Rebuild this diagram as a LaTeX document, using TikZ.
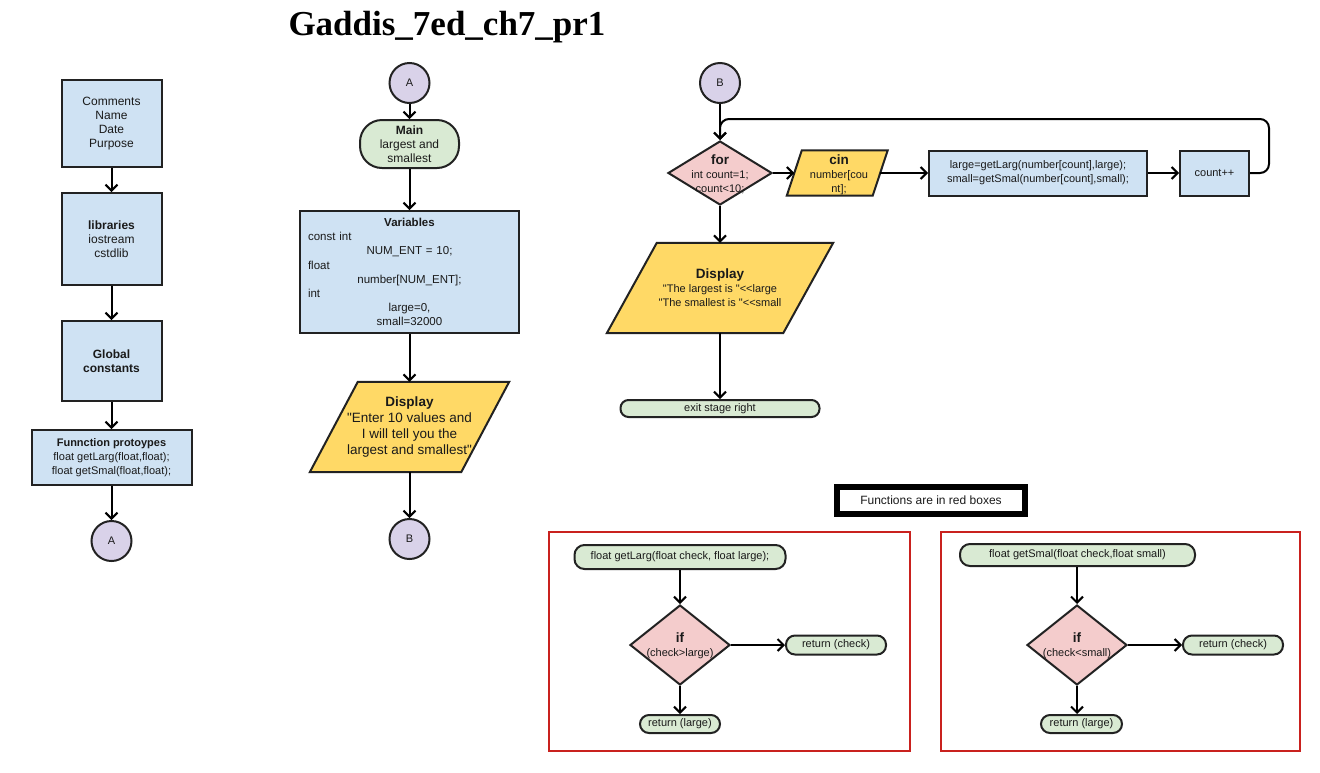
\documentclass[tikz,border=0pt]{standalone}
\usepackage{fontspec}
\usetikzlibrary{shapes.geometric,arrows.meta,backgrounds,calc}
\newfontfamily\ssf{Liberation Sans}
\newfontfamily\ttlfont{Liberation Serif}
\newcommand\fsz[2]{\fontsize{#1}{#2}\selectfont}
\definecolor{bord}{HTML}{222222}
\definecolor{boxblue}{HTML}{CFE2F3}
\definecolor{termgreen}{HTML}{D9EAD3}
\definecolor{parayellow}{HTML}{FFD966}
\definecolor{diapink}{HTML}{F4CCCC}
\definecolor{conpurple}{HTML}{D9D2E9}
\definecolor{fnred}{HTML}{C9211E}
\definecolor{txt}{HTML}{1A1A1A}
\tikzset{
  base/.style={draw=bord, line width=2pt, inner sep=0pt, align=center, text=txt},
  bluebox/.style={base, rectangle, fill=boxblue},
  term/.style={base, rectangle, fill=termgreen, rounded corners=#1},
  term/.default=9pt,
  conn/.style={base, circle, fill=conpurple, minimum size=40pt, font=\ssf\fsz{11}{13}},
  dia/.style={base, diamond, fill=diapink},
  paratxt/.style={inner sep=0pt, align=center, text=txt},
  parashape/.style={draw=bord, line width=2pt, fill=parayellow, line join=miter},
  arr/.style={line width=2pt, draw=black, -{Straight Barb[length=6pt,width=12pt,line width=2pt]}},
  redbox/.style={draw=fnred, line width=1.6pt},
}
% parallelogram behind a text node: #1 node name, #2 slant
\newcommand\paraback[2]{%
  \begin{scope}[on background layer]
    \filldraw[parashape] ($(#1.north west)+(#2,0)$) -- ($(#1.north east)+(#2,0)$)
      -- ($(#1.south east)+(-#2,0)$) -- ($(#1.south west)+(-#2,0)$) -- cycle;
  \end{scope}}
\begin{document}
\begin{tikzpicture}[x=1pt,y=-1pt, font=\ssf\fsz{11}{14}]
\begin{scope}[on background layer]
  \fill[white] (0,0) rectangle (1320,772);
\end{scope}
\useasboundingbox (0,0) rectangle (1320,772);

% title
\node[font=\ttlfont\bfseries\fsz{35}{40}, inner sep=0pt] (title) at (447,27) {Gaddis\_7ed\_ch7\_pr1};

% ---------- column 1 ----------
\node[bluebox, minimum width=100pt, minimum height=87pt, font=\ssf\fsz{12}{14}] (c1) at (111.5,123.5)
  {Comments\\Name\\Date\\Purpose};
\node[bluebox, minimum width=100pt, minimum height=92pt, font=\ssf\fsz{12}{14}] (c2) at (111.5,239)
  {\textbf{libraries}\\iostream\\cstdlib};
\node[bluebox, minimum width=100pt, minimum height=80pt, font=\ssf\fsz{12}{14}] (c3) at (111.5,361)
  {\textbf{Global}\\\textbf{constants}};
\node[bluebox, minimum width=160pt, minimum height=55pt, font=\ssf\fsz{11}{14}] (c4) at (111.5,457.5)
  {\textbf{Funnction protoypes}\\float getLarg(float,float);\\float getSmal(float,float);};
\node[conn] (A1) at (111.5,541) {A};
\draw[arr] (c1.south) -- (c2.north);
\draw[arr] (c2.south) -- (c3.north);
\draw[arr] (c3.south) -- (c4.north);
\draw[arr] (c4.south) -- (A1.north);

% ---------- column 2 ----------
\node[conn] (A2) at (409.5,83) {A};
\node[term=22pt, minimum width=99pt, minimum height=48pt, font=\ssf\fsz{12}{14}] (main) at (409.5,144)
  {\textbf{Main}\\largest and\\smallest};
\node[bluebox, minimum width=219pt, minimum height=122pt, text width=203pt, align=left, font=\ssf\fsz{11.5}{14.1}] (vars) at (409.5,272)
  {\makebox[\linewidth]{\textbf{Variables}}\\
   const int\\
   \makebox[\linewidth]{NUM\_ENT = 10;}\\
   float\\
   \makebox[\linewidth]{number[NUM\_ENT];}\\
   int\\
   \makebox[\linewidth]{large=0,}\\
   \makebox[\linewidth]{small=32000}};
\node[paratxt, minimum width=151pt, minimum height=90pt, font=\ssf\fsz{13.5}{16}] (disp1) at (409.5,427)
  {\textbf{Display}\\"Enter 10 values and\\I will tell you the\\largest and smallest"};
\paraback{disp1}{24pt}
\node[conn] (B1) at (409.5,539) {B};
\draw[arr] (A2.south) -- (main.north);
\draw[arr] (main.south) -- (vars.north);
\draw[arr] (vars.south) -- (disp1.north);
\draw[arr] (disp1.south) -- (B1.north);

% ---------- column 3 ----------
\node[conn] (B2) at (720,83) {B};
\node[dia, minimum width=104pt, minimum height=64pt] (for) at (720,173) {};
\node[paratxt, font=\ssf\fsz{11}{14}] (fortxt) at (720,174.5)
  {\fsz{13.5}{14}\textbf{for}\\int count=1;\\count<10;};
\node[paratxt, minimum width=85.5pt, minimum height=45pt, font=\ssf\fsz{11}{14}] (cin) at (837.25,173) {};
\paraback{cin}{7.5pt}
\node[paratxt, font=\ssf\fsz{11}{14}] (cintxt) at (839,175)
  {\fsz{13.5}{14}\textbf{cin}\\number[cou\\nt];};
\node[bluebox, minimum width=218pt, minimum height=45pt, font=\ssf\fsz{11}{14}] (calc) at (1038,173)
  {large=getLarg(number[count],large);\\small=getSmal(number[count],small);};
\node[bluebox, minimum width=69pt, minimum height=45pt, font=\ssf\fsz{11}{14}] (cnt) at (1214.5,173) {count++};
\node[paratxt, minimum width=176pt, minimum height=90pt, font=\ssf\fsz{11}{14}] (disp2) at (720,288)
  {\fsz{13.5}{14}\textbf{Display}\\"The largest is "<<large\\"The smallest is "<<small};
\paraback{disp2}{25pt}
\node[term=8pt, minimum width=199pt, minimum height=17pt, font=\ssf\fsz{11}{14}] (exit) at (720,408.5) {exit stage right};
\coordinate (loopR) at (1269,119);
\draw[arr] (B2.south) -- (for.north);
\draw[arr] (for.east) -- (cin.west);
\draw[arr] (cin.east) -- (calc.west);
\draw[arr] (calc.east) -- (cnt.west);
\draw[arr, rounded corners=9pt] (cnt.east) -| (loopR) -| (for.north);
\draw[arr] (for.south) -- (disp2.north);
\draw[arr] (disp2.south) -- (exit.north);

% ---------- functions ----------
\node[draw=black, line width=6pt, minimum width=188pt, minimum height=27pt, inner sep=0pt, font=\ssf\fsz{12}{14}, text=txt] (fnote) at (931,500.5)
  {Functions are in red boxes};

\node[redbox, minimum width=361pt, minimum height=219pt, inner sep=0pt] (rb1) at (729.5,641.5) {};
\node[redbox, minimum width=359pt, minimum height=219pt, inner sep=0pt] (rb2) at (1120.5,641.5) {};

\node[term=10pt, minimum width=211pt, minimum height=24pt, font=\ssf\fsz{11}{14}] (gl) at (680,557) {float getLarg(float check, float large);};
\node[dia, minimum width=100pt, minimum height=80pt] (if1) at (680,645) {};
\node[paratxt, font=\ssf\fsz{11}{14}] (if1txt) at (680,646) {\fsz{13.5}{14}\textbf{if}\\(check>large)};
\node[term=9pt, minimum width=100pt, minimum height=19pt, font=\ssf\fsz{11}{14}] (rc1) at (836,645) {return (check)};
\node[term=9pt, minimum width=80pt, minimum height=18pt, font=\ssf\fsz{11}{14}] (rl1) at (680,724) {return (large)};
\draw[arr] (gl.south) -- (if1.north);
\draw[arr] (if1.east) -- (rc1.west);
\draw[arr] (if1.south) -- (rl1.north);

\node[term=10pt, minimum width=235pt, minimum height=22pt, font=\ssf\fsz{11}{14}] (gs) at (1077.5,555) {float getSmal(float check,float small)};
\node[dia, minimum width=100pt, minimum height=80pt] (if2) at (1077,645) {};
\node[paratxt, font=\ssf\fsz{11}{14}] (if2txt) at (1077,646) {\fsz{13.5}{14}\textbf{if}\\(check<small)};
\node[term=9pt, minimum width=100pt, minimum height=19pt, font=\ssf\fsz{11}{14}] (rc2) at (1233,645) {return (check)};
\node[term=9pt, minimum width=81pt, minimum height=18pt, font=\ssf\fsz{11}{14}] (rl2) at (1081.5,724) {return (large)};
\draw[arr] (gs.south -| if2.north) -- (if2.north);
\draw[arr] (if2.east) -- (rc2.west);
\draw[arr] (if2.south) -- (if2.south |- rl2.north);
\end{tikzpicture}
\end{document}
